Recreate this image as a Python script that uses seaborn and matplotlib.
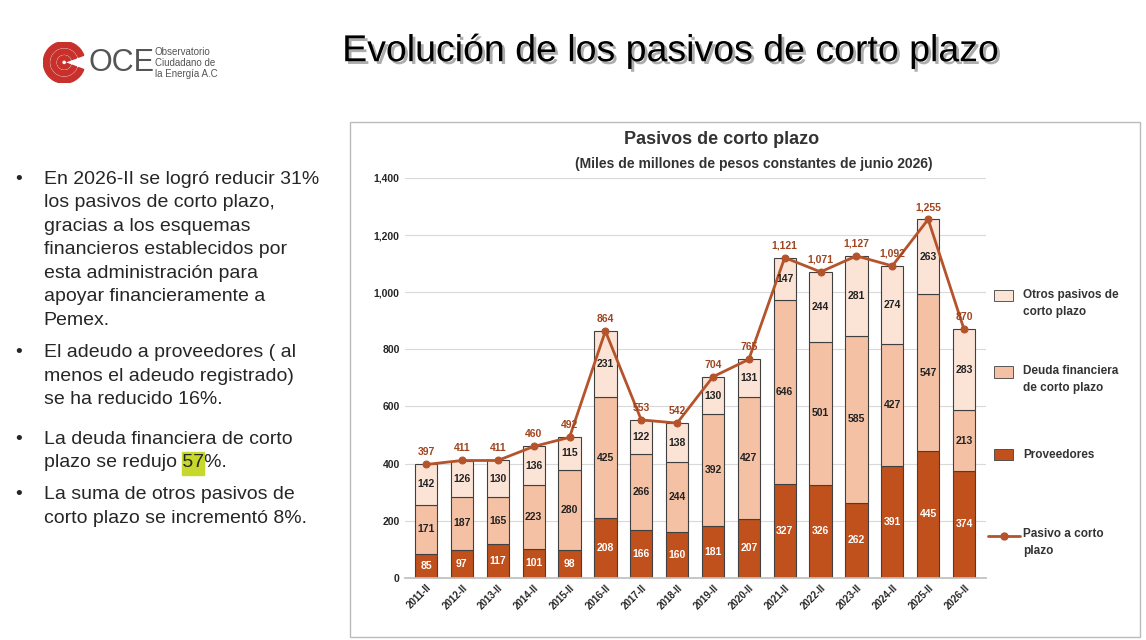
import matplotlib
matplotlib.use("Agg")
import matplotlib.pyplot as plt
import matplotlib.patheffects as pe
from matplotlib.patches import Rectangle, Wedge
import numpy as np
import seaborn as sns

years = ["2011-II","2012-II","2013-II","2014-II","2015-II","2016-II","2017-II","2018-II",
         "2019-II","2020-II","2021-II","2022-II","2023-II","2024-II","2025-II","2026-II"]
proveedores = [85,97,117,101,98,208,166,160,181,207,327,326,262,391,445,374]
deuda = [171,187,165,223,280,425,266,244,392,427,646,501,585,427,547,213]
otros = [142,126,130,136,115,231,122,138,130,131,147,244,281,274,263,283]
total = [397,411,411,460,492,864,553,542,704,765,1121,1071,1127,1092,1255,870]

c_prov, c_deu, c_otr, c_line = "#C0501C", "#F4C1A4", "#FBE3D6", "#B5532A"

sns.set_theme(style="white")
plt.rcParams['font.family'] = ['Liberation Sans', 'DejaVu Sans']
fig = plt.figure(figsize=(11.46, 6.4), dpi=100)

# title
fig.text(0.585, 0.92, "Evolución de los pasivos de corto plazo", fontsize=27, ha="center", va="center",
         color="black", path_effects=[pe.withSimplePatchShadow(offset=(2, -2), shadow_rgbFace="#999999", alpha=0.8)])
# logo
lax = fig.add_axes([0.035, 0.87, 0.042, 0.065]); lax.set_xlim(0, 1); lax.set_ylim(0, 1); lax.axis("off")
lax.set_aspect("equal")
for r, w in [(0.5, 0.14), (0.32, 0.12), (0.16, 0.1)]:
    lax.add_patch(Wedge((0.5, 0.5), r, 20, 340, width=w, color="#C8302C"))
fig.text(0.077, 0.902, "OCE", fontsize=22, color="#555555", va="center")
fig.text(0.135, 0.902, "Observatorio\nCiudadano de\nla Energía A.C", fontsize=7, color="#555555",
         va="center", linespacing=1.1)

# bullets
fs = 14
bullets = [(0.733, "En 2026-II se logró reducir 31%\nlos pasivos de corto plazo,\ngracias a los esquemas\nfinancieros establecidos por\nesta administración para\napoyar financieramente a\nPemex."),
           (0.462, "El adeudo a proveedores ( al\nmenos el adeudo registrado)\nse ha reducido 16%."),
           (0.327, "La deuda financiera de corto\nplazo se redujo 57%."),
           (0.240, "La suma de otros pasivos de\ncorto plazo se incrementó 8%.")]
for y, t in bullets:
    fig.text(0.013, y, "•", fontsize=fs, va="top")
    fig.text(0.038, y, t, fontsize=fs, va="top", linespacing=1.5)

# highlight "57"
fig.canvas.draw()
r = fig.canvas.get_renderer()
pre = fig.text(0.038, 0.0, "plazo se redujo ", fontsize=fs, alpha=0)
w1 = pre.get_window_extent(r).width / fig.bbox.width
n57 = fig.text(0.038, 0.0, "57", fontsize=fs, alpha=0)
w2 = n57.get_window_extent(r).width / fig.bbox.width
fig.add_artist(Rectangle((0.038 + w1, 0.258), w2, 0.035, color="#C6D82C", transform=fig.transFigure, zorder=0))

# panel border
fig.add_artist(Rectangle((0.305, 0.005), 0.69, 0.805, fill=False, edgecolor="#BBBBBB", lw=1, transform=fig.transFigure))

ax = fig.add_axes([0.353, 0.097, 0.507, 0.625])
x = np.arange(len(years))
bot2 = np.array(proveedores)
bot3 = bot2 + np.array(deuda)
kw = dict(ax=ax, width=0.62, edgecolor="#404040", linewidth=0.8, saturation=1)
sns.barplot(x=years, y=proveedores, color=c_prov, **kw)
sns.barplot(x=years, y=deuda, bottom=bot2, color=c_deu, **kw)
sns.barplot(x=years, y=otros, bottom=bot3, color=c_otr, **kw)
sns.lineplot(x=x, y=total, color=c_line, marker="o", markersize=5, lw=2, ax=ax, markeredgecolor=c_line)

for i in range(len(years)):
    ax.text(i, proveedores[i]/2, str(proveedores[i]), ha="center", va="center", color="white", fontsize=7.5, fontweight="bold")
    ax.text(i, bot2[i] + deuda[i]/2, str(deuda[i]), ha="center", va="center", color="#222222", fontsize=7.5, fontweight="bold")
    ax.text(i, bot3[i] + otros[i]/2, str(otros[i]), ha="center", va="center", color="#222222", fontsize=7.5, fontweight="bold")
    ax.text(i, total[i] + 25, f"{total[i]:,}", ha="center", va="bottom", color="#A0451F", fontsize=7.5, fontweight="bold")

ax.set_ylim(0, 1400)
ax.set_xlim(-0.6, 15.6)
ax.set_yticks(range(0, 1401, 200))
ax.set_yticklabels([f"{v:,}" for v in range(0, 1401, 200)], fontsize=7.5, fontweight="bold")
ax.set_xticks(x)
ax.set_xticklabels(years, rotation=45, ha="right", fontsize=7, fontweight="bold", rotation_mode="anchor")
ax.yaxis.grid(True, color="#D9D9D9", lw=0.8)
ax.set_axisbelow(True)
for s in ["top", "right", "left"]:
    ax.spines[s].set_visible(False)
ax.spines["bottom"].set_color("#BFBFBF")
ax.tick_params(length=0)

fig.text(0.63, 0.775, "Pasivos de corto plazo", fontsize=13, fontweight="bold", ha="center", color="#333333")
fig.text(0.658, 0.737, "(Miles de millones de pesos constantes de junio 2026)", fontsize=10, fontweight="bold", ha="center", color="#333333")

# legend
leg = [(0.537, c_otr, "Otros pasivos de\ncorto plazo"), (0.418, c_deu, "Deuda financiera\nde corto plazo"),
       (0.289, c_prov, "Proveedores")]
for y, c, t in leg:
    fig.add_artist(Rectangle((0.867, y - 0.008), 0.017, 0.018, facecolor=c, edgecolor="#404040", lw=0.6, transform=fig.transFigure))
    fig.text(0.893, y + 0.012 if "\n" in t else y, t, fontsize=8.5, fontweight="bold", va="top" if "\n" in t else "center",
             color="#333333", linespacing=1.6)
fig.add_artist(plt.Line2D([0.862, 0.89], [0.163, 0.163], color=c_line, lw=2, transform=fig.transFigure))
fig.add_artist(plt.Line2D([0.876], [0.163], color=c_line, marker="o", markersize=5, transform=fig.transFigure))
fig.text(0.893, 0.175, "Pasivo a corto\nplazo", fontsize=8.5, fontweight="bold", va="top", color="#333333", linespacing=1.6)

fig.savefig("out.png", dpi=100)
